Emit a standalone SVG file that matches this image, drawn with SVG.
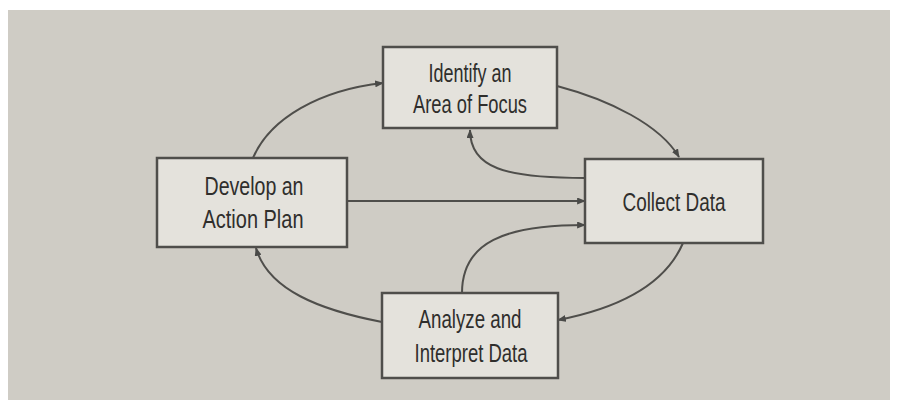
<svg xmlns="http://www.w3.org/2000/svg" width="898" height="407" viewBox="0 0 898 407">
  <defs>
    <marker id="arr" viewBox="0 0 10 8" refX="9" refY="4" markerWidth="9" markerHeight="7" markerUnits="userSpaceOnUse" orient="auto">
      <path d="M0,0 L10,4 L0,8 Z" fill="#4a4a48"/>
    </marker>
  </defs>
  <style>
    .box { fill: #e4e2dc; stroke: #4f4e4b; stroke-width: 2.5; }
    .lbl { font-family: "Liberation Sans", Arial, sans-serif; font-size: 26px; fill: #2f2e2c; text-anchor: middle; }
    .con { fill: none; stroke: #4f4e4b; stroke-width: 2; marker-end: url(#arr); }
  </style>
  <rect x="0" y="0" width="898" height="407" fill="#ffffff"/>
  <rect x="8" y="10" width="882" height="390" fill="#cfccc5"/>

  <g id="connectors">
    <path class="con" d="M253,158 C270,118 320,90 383,83"/>
    <path class="con" d="M557,86 C610,100 660,125 679,157"/>
    <path class="con" d="M585,178 C505,178 470,168 470,130"/>
    <path class="con" d="M347,201 L585,201"/>
    <path class="con" d="M462,293 C462,242 505,225 585,225"/>
    <path class="con" d="M683,243 C665,285 620,308 558,320"/>
    <path class="con" d="M382,322 C320,310 268,290 256,248"/>
  </g>

  <g id="identify">
    <rect class="box" x="383" y="47" width="174" height="81"/>
    <text class="lbl" x="470" y="82" textLength="83" lengthAdjust="spacingAndGlyphs">Identify an</text>
    <text class="lbl" x="470" y="113" textLength="114" lengthAdjust="spacingAndGlyphs">Area of Focus</text>
  </g>

  <g id="develop">
    <rect class="box" x="157" y="158" width="190" height="89"/>
    <text class="lbl" x="254" y="195" textLength="99" lengthAdjust="spacingAndGlyphs">Develop an</text>
    <text class="lbl" x="253" y="228" textLength="101" lengthAdjust="spacingAndGlyphs">Action Plan</text>
  </g>

  <g id="collect">
    <rect class="box" x="585" y="159" width="178" height="84"/>
    <text class="lbl" x="674" y="211" textLength="103" lengthAdjust="spacingAndGlyphs">Collect Data</text>
  </g>

  <g id="analyze">
    <rect class="box" x="382" y="293" width="176" height="85"/>
    <text class="lbl" x="470" y="328" textLength="103" lengthAdjust="spacingAndGlyphs">Analyze and</text>
    <text class="lbl" x="471" y="362" textLength="113" lengthAdjust="spacingAndGlyphs">Interpret Data</text>
  </g>
</svg>
